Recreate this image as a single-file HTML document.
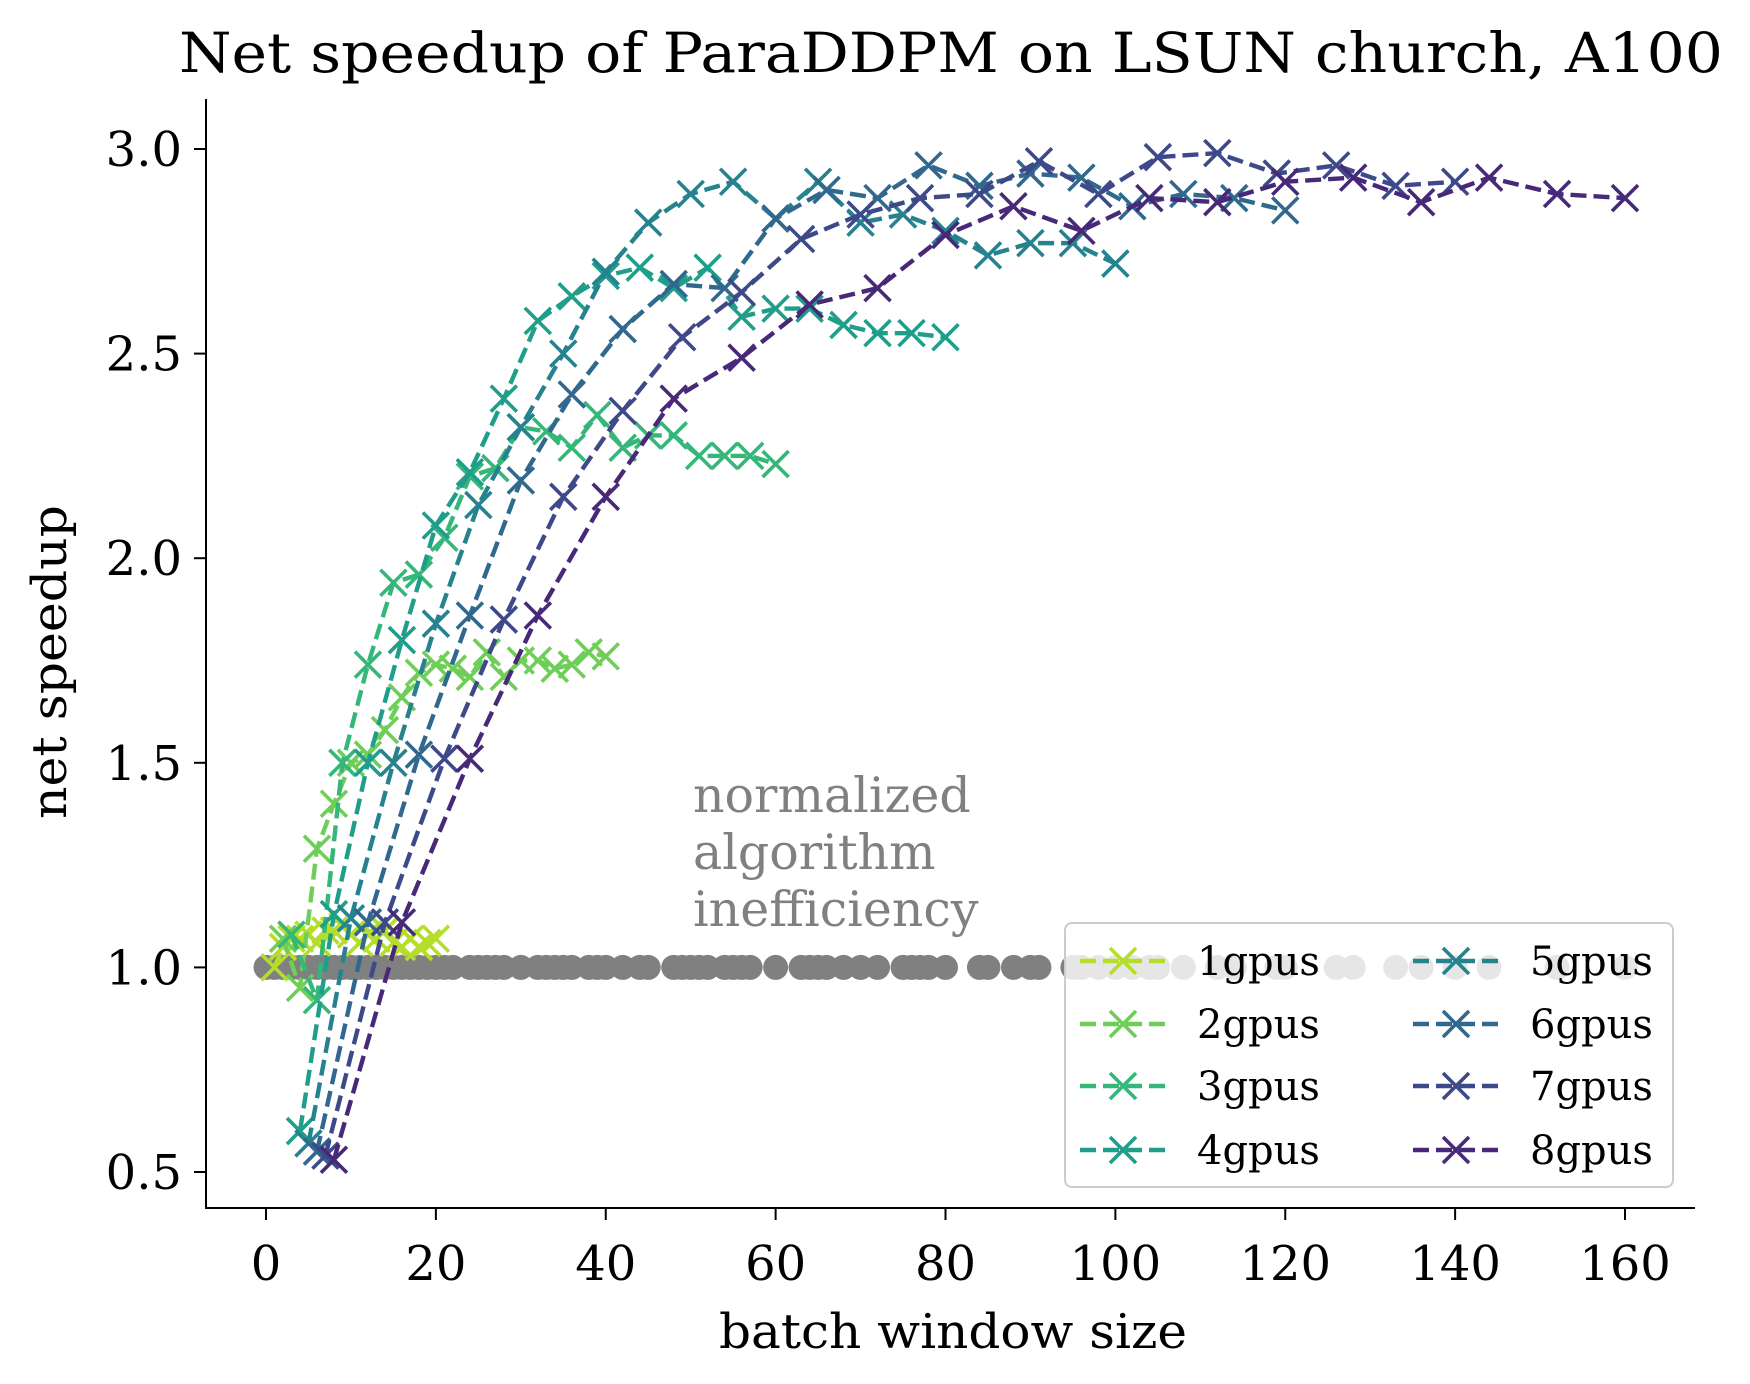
<!DOCTYPE html>
<html><head><meta charset="utf-8"><style>
html,body{margin:0;padding:0;background:#fff;}
svg{display:block;font-family:"DejaVu Serif","Liberation Serif",serif;}
</style></head><body>
<svg id="chart" width="1750" height="1384" viewBox="0 0 1750 1384" xmlns="http://www.w3.org/2000/svg">
<rect width="1750" height="1384" fill="#fff"/>
<text x="951" y="72" font-size="55" text-anchor="middle" textLength="1544" lengthAdjust="spacingAndGlyphs">Net speedup of ParaDDPM on LSUN church, A100</text>
<g id="dots"></g>
<g id="series"></g>
<g id="axes"></g>
<text fill="#808080" font-size="49"><tspan x="693" y="812">normalized</tspan><tspan x="693" y="869">algorithm</tspan><tspan x="693" y="926">inefficiency</tspan></text>
<g id="legend"></g>
<text x="953" y="1348" font-size="48" text-anchor="middle" textLength="468" lengthAdjust="spacingAndGlyphs">batch window size</text>
<text transform="translate(66,662) rotate(-90)" font-size="48" text-anchor="middle" textLength="314" lengthAdjust="spacingAndGlyphs">net speedup</text>
</svg>
<script>
const seriesNames = ['1gpus','2gpus','3gpus','4gpus','5gpus','6gpus','7gpus','8gpus'];
const gpuCounts = [1,2,3,4,5,6,7,8];
const s1 = [1.00,1.05,1.07,1.07,1.08,1.06,1.09,1.09,1.10,1.08,1.06,1.08,1.07,1.09,1.06,1.05,1.07,1.05,1.06,1.07];
const s2 = [1.07,0.95,1.29,1.40,1.50,1.52,1.58,1.66,1.72,1.74,1.73,1.71,1.77,1.71,1.75,1.75,1.73,1.74,1.77,1.76];
const s3 = [1.08,0.92,1.50,1.74,1.94,1.96,2.05,2.20,2.22,2.32,2.31,2.27,2.35,2.27,2.30,2.30,2.25,2.25,2.25,2.23];
const s4 = [0.60,1.13,1.50,1.80,2.08,2.21,2.39,2.58,2.64,2.69,2.71,2.66,2.71,2.59,2.61,2.61,2.57,2.55,2.55,2.54];
const s5 = [0.57,1.12,1.50,1.84,2.13,2.32,2.50,2.70,2.82,2.89,2.92,2.83,2.92,2.82,2.84,2.80,2.74,2.77,2.77,2.72];
const s6 = [0.55,1.11,1.52,1.86,2.19,2.40,2.56,2.67,2.66,2.83,2.90,2.88,2.96,2.91,2.94,2.93,2.86,2.89,2.88,2.85];
const s7 = [0.54,1.11,1.51,1.85,2.15,2.36,2.54,2.65,2.78,2.84,2.88,2.89,2.97,2.89,2.98,2.99,2.94,2.96,2.91,2.92];
const s8 = [0.53,1.11,1.51,1.86,2.15,2.39,2.49,2.62,2.66,2.79,2.86,2.80,2.88,2.87,2.92,2.93,2.87,2.93,2.89,2.88];
const allSeries = [s1,s2,s3,s4,s5,s6,s7,s8];
const colors = ['#b5de2b','#6ece58','#35b779','#1f9e89','#26828e','#31688e','#3e4989','#482878'];
const xTicks = [0,20,40,60,80,100,120,140,160];
const yTicks = [0.5,1.0,1.5,2.0,2.5,3.0];
const yTickLabels = ['0.5','1.0','1.5','2.0','2.5','3.0'];

const NS='http://www.w3.org/2000/svg';
const X0=266, XS=(1625-266)/160;
const Y3=149, YS=(1172-149)/2.5;
const BOTTOM=1208, LEFT=206, RIGHT=1695, TOP=99;
function sx(v){return X0+v*XS;}
function sy(v){return Y3+(3-v)*YS;}
function mk(tag,attrs,parent){const e=document.createElementNS(NS,tag);for(const k in attrs)e.setAttribute(k,attrs[k]);parent.appendChild(e);return e;}
function cross(g,cx,cy,r,color){
  mk('path',{d:`M${cx-r},${cy-r}L${cx+r},${cy+r}M${cx-r},${cy+r}L${cx+r},${cy-r}`,stroke:color,'stroke-width':3.6,fill:'none'},g);
}

// dots
const dotsG=document.getElementById('dots');
const dotX=new Set([0]);
allSeries.forEach((s,i)=>s.forEach((v,j)=>dotX.add(gpuCounts[i]*(j+1))));
[...dotX].sort((a,b)=>a-b).forEach(x=>{
  const c=mk('circle',{cx:sx(x),cy:sy(1),r:12.5,fill:'#808080'},dotsG);
  
  
});

// series
const serG=document.getElementById('series');
allSeries.forEach((s,i)=>{
  const g=mk('g',{},serG);
  
  
  const pts=s.map((v,j)=>[sx(gpuCounts[i]*(j+1)),sy(v)]);
  const l=mk('polyline',{points:pts.map(p=>p.join(',')).join(' '),fill:'none',stroke:colors[i],'stroke-width':4.4,'stroke-dasharray':'16,7'},g);
  
  
  pts.forEach(p=>cross(g,p[0],p[1],13,colors[i]));
});

// axes
const ax=document.getElementById('axes');
mk('line',{x1:LEFT,y1:TOP,x2:LEFT,y2:BOTTOM,stroke:'#000','stroke-width':2},ax);
mk('line',{x1:LEFT-1,y1:BOTTOM,x2:RIGHT,y2:BOTTOM,stroke:'#000','stroke-width':2},ax);
xTicks.forEach(t=>{
  const x=sx(t);
  mk('line',{x1:x,y1:BOTTOM,x2:x,y2:BOTTOM+12,stroke:'#000','stroke-width':2},ax);
  const tx=mk('text',{x:x,y:1280,'font-size':48,'text-anchor':'middle'},ax);
  tx.textContent=String(t);
  
  
});
yTicks.forEach((t,i)=>{
  const y=sy(t);
  mk('line',{x1:LEFT-12,y1:y,x2:LEFT,y2:y,stroke:'#000','stroke-width':2},ax);
  const tx=mk('text',{x:182,y:y+17,'font-size':48,'text-anchor':'end'},ax);
  tx.textContent=yTickLabels[i];
  
  
});

// legend
const lg=document.getElementById('legend');
mk('rect',{x:1065,y:923,width:608,height:264,rx:7,fill:'#fff','fill-opacity':0.8,stroke:'#cccccc','stroke-width':2},lg);
const rowsY=[961,1024,1086,1150];
seriesNames.forEach((n,i)=>{
  const col=Math.floor(i/4), row=i%4;
  const hx=col===0?1080:1413, tx=col===0?1197:1530, y=rowsY[row];
  const g=mk('g',{},lg);
  
  
  mk('line',{x1:hx,y1:y,x2:hx+86,y2:y,stroke:colors[i],'stroke-width':4.4,'stroke-dasharray':'16,7'},g);
  cross(g,hx+43,y,13,colors[i]);
  const t=mk('text',{x:tx,y:y+14,'font-size':40},g);
  t.textContent=n;
});
</script>
</body></html>
